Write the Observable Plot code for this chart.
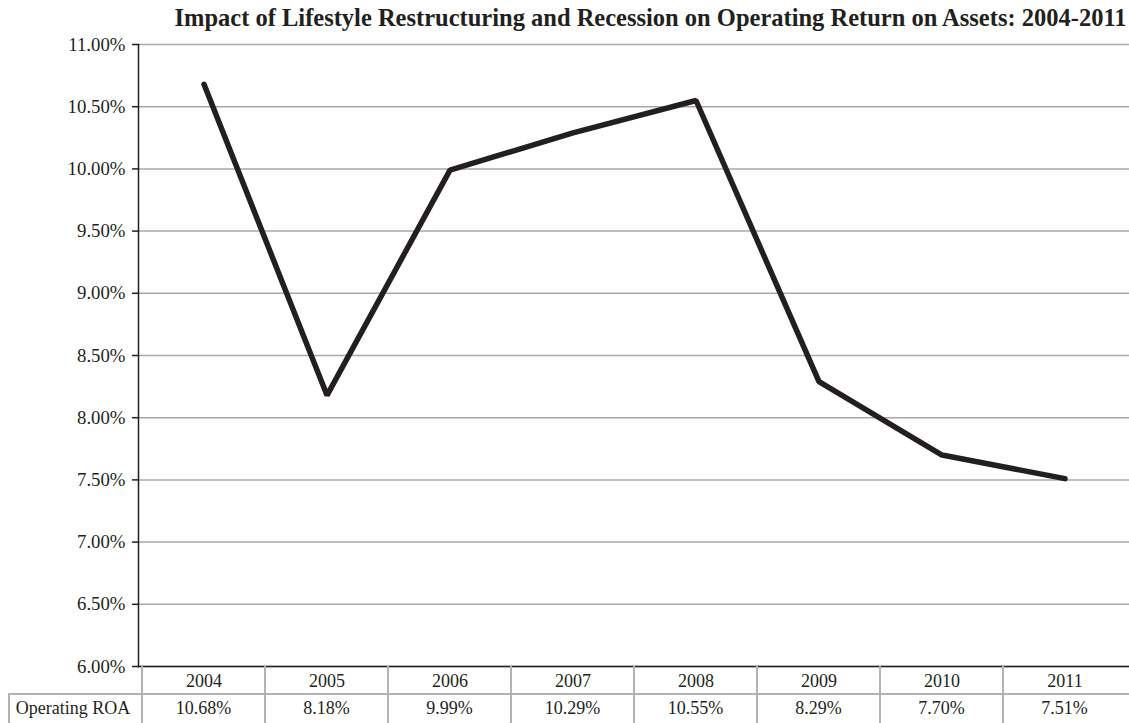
<!DOCTYPE html>
<html>
<head>
<meta charset="utf-8">
<script src="https://cdn.jsdelivr.net/npm/d3@7"></script>
<script src="https://cdn.jsdelivr.net/npm/@observablehq/plot@0.6"></script>
<style>
  html, body { margin: 0; padding: 0; background: #fff; }
  body { width: 1129px; height: 723px; position: relative; overflow: hidden; font-family: "Liberation Serif", "Times New Roman", serif; }
  #title { height: 34px; line-height: 36px; font-weight: bold; font-size: 24.5px; color: #231f20; text-align: center; padding-left: 172px; white-space: nowrap; }
  #chart svg { display: block; }
  .cell { position: absolute; box-sizing: border-box; font-size: 18px; color: #231f20; text-align: center; line-height: 29px; }
  .vline { position: absolute; width: 1.5px; background: #b3b3b3; }
  .hline { position: absolute; height: 1.5px; background: #b3b3b3; }
</style>
</head>
<body>
<div id="title">Impact of Lifestyle Restructuring and Recession on Operating Return on Assets: 2004-2011</div>
<div id="chart"></div>
<div id="table"></div>
<script>
const years = ["2004", "2005", "2006", "2007", "2008", "2009", "2010", "2011"];
const roa = [10.68, 8.18, 9.99, 10.29, 10.55, 8.29, 7.70, 7.51];
const roaLabels = ["10.68%", "8.18%", "9.99%", "10.29%", "10.55%", "8.29%", "7.70%", "7.51%"];
const yTicks = [6, 6.5, 7, 7.5, 8, 8.5, 9, 9.5, 10, 10.5, 11];
const rowLabel = "Operating ROA";
const title = "Impact of Lifestyle Restructuring and Recession on Operating Return on Assets: 2004-2011";

const data = years.map((y, i) => ({year: y, roa: roa[i]}));

const W = 1129, ML = 138, MR = 0;
const plot = Plot.plot({
  width: W,
  height: 660,
  marginLeft: ML,
  marginRight: MR,
  marginTop: 10,
  marginBottom: 28,
  style: {fontFamily: "'Liberation Serif', 'Times New Roman', serif", fontSize: "18px", color: "#231f20", background: "#fff"},
  x: {type: "band", domain: years, padding: 0, label: null},
  y: {domain: [6, 11], label: null},
  marks: [
    Plot.gridY(yTicks, {stroke: "#a8a8a8", strokeOpacity: 1, strokeWidth: 1.5}),
    Plot.axisY({ticks: yTicks, tickFormat: d => d.toFixed(2) + "%", tickSize: 6, tickPadding: 7, label: null, fontSize: 18.8, stroke: "#231f20", strokeWidth: 1.5}),
    Plot.axisX({tickSize: 0, tickPadding: 8, label: null, fontSize: 18}),
    Plot.frame({anchor: "left", stroke: "#231f20", strokeWidth: 1.5}),
    Plot.frame({anchor: "bottom", stroke: "#231f20", strokeWidth: 1.5}),
    Plot.line(data, {x: "year", y: "roa", stroke: "#231f20", strokeWidth: 5.5, strokeLinecap: "round", strokeLinejoin: "miter"})
  ]
});
document.getElementById("chart").appendChild(plot);

// data table below the plot, aligned with the band scale
const xs = plot.scale("x");
const bw = xs.bandwidth;
const top0 = 34 + 660 - 28; // plot bottom (x axis line)
const rowH = 28;
const tbl = document.getElementById("table");
function add(cls, styles, text) {
  const d = document.createElement("div");
  d.className = cls;
  Object.assign(d.style, styles);
  if (text != null) d.textContent = text;
  tbl.appendChild(d);
}
// vertical dividers across both rows
const edges = years.map(y => xs.apply(y)).concat([xs.apply(years[years.length - 1]) + bw]);
edges.forEach((x, i) => {
  if (i === edges.length - 1) return;
  add("vline", {left: (x - 0.75) + "px", top: top0 + "px", height: (723 - top0) + "px"});
});
// label cell left border
add("vline", {left: "8px", top: (top0 + rowH) + "px", height: (723 - top0 - rowH) + "px"});
// horizontal line between rows
add("hline", {left: "8px", top: (top0 + rowH - 0.75) + "px", width: (W - 8) + "px"});
// value row
add("cell", {left: "8px", top: (top0 + rowH) + "px", width: (ML - 8) + "px", height: "29px"}, rowLabel);
years.forEach((y, i) => {
  add("cell", {left: xs.apply(y) + "px", top: (top0 + rowH) + "px", width: bw + "px", height: "29px"}, roaLabels[i]);
});
</script>
</body>
</html>
